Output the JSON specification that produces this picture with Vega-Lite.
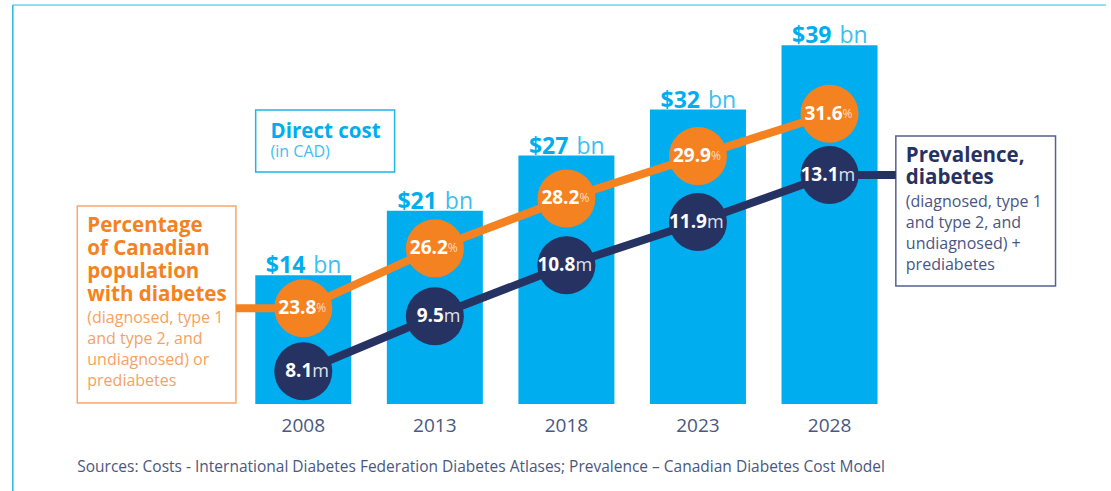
{
  "$schema": "https://vega.github.io/schema/vega-lite/v6.json",
  "width": 1111,
  "height": 491,
  "padding": 0,
  "autosize": {"type": "none"},
  "background": "white",
  "config": {"view": {"stroke": null}, "font": "Open Sans"},
  "datasets": {
    "main": [
      {"year": 2008, "cost": 14, "pct": 23.8, "prev": 8.1},
      {"year": 2013, "cost": 21, "pct": 26.2, "prev": 9.5},
      {"year": 2018, "cost": 27, "pct": 28.2, "prev": 10.8},
      {"year": 2023, "cost": 32, "pct": 29.9, "prev": 11.9},
      {"year": 2028, "cost": 39, "pct": 31.6, "prev": 13.1}
    ]
  },
  "data": {"name": "main"},
  "resolve": {"scale": {"y": "independent"}},
  "layer": [
    {
      "layer": [
        {
          "mark": {"type": "bar", "width": 96, "color": "#00aeef"},
          "encoding": {
            "x": {"field": "year", "type": "quantitative", "scale": {"domain": [1996.663, 2038.508], "nice": false, "zero": false}, "axis": null},
            "y": {"field": "cost", "type": "quantitative", "scale": {"domain": [-9.457, 43.913], "nice": false, "zero": false}, "axis": null},
            "y2": {"datum": 0}
          }
        },
        {
          "mark": {"type": "text", "align": "right", "baseline": "alphabetic", "dx": 2, "dy": -2, "fontSize": 23, "fontWeight": "bold", "color": "#00aeef"},
          "encoding": {
            "x": {"field": "year", "type": "quantitative", "scale": {"domain": [1996.663, 2038.508], "nice": false, "zero": false}, "axis": null},
            "y": {"field": "cost", "type": "quantitative", "scale": {"domain": [-9.457, 43.913], "nice": false, "zero": false}, "axis": null},
            "text": {"field": "cost", "type": "quantitative", "format": "$.0f"}
          }
        },
        {
          "mark": {"type": "text", "text": "bn", "align": "left", "baseline": "alphabetic", "dx": 10, "dy": -2, "fontSize": 23, "fontWeight": "normal", "color": "#3cbff0"},
          "encoding": {
            "x": {"field": "year", "type": "quantitative", "scale": {"domain": [1996.663, 2038.508], "nice": false, "zero": false}, "axis": null},
            "y": {"field": "cost", "type": "quantitative", "scale": {"domain": [-9.457, 43.913], "nice": false, "zero": false}, "axis": null}
          }
        },
        {
          "mark": {"type": "text", "align": "center", "baseline": "alphabetic", "fontSize": 19, "color": "#4a5780"},
          "encoding": {
            "x": {"field": "year", "type": "quantitative", "scale": {"domain": [1996.663, 2038.508], "nice": false, "zero": false}, "axis": null},
            "y": {"datum": -3.04, "type": "quantitative", "scale": {"domain": [-9.457, 43.913], "nice": false, "zero": false}, "axis": null},
            "text": {"field": "year", "type": "quantitative", "format": "d"}
          }
        },
        {
          "data": {"values": [{}]},
          "mark": {"type": "text", "text": "Sources: Costs - International Diabetes Federation Diabetes Atlases; Prevalence – Canadian Diabetes Cost Model", "align": "left", "baseline": "alphabetic", "fontSize": 15.5, "color": "#4a5780"},
          "encoding": {
            "x": {"datum": 1999.41, "type": "quantitative", "scale": {"domain": [1996.663, 2038.508], "nice": false, "zero": false}, "axis": null},
            "y": {"datum": -7.39, "type": "quantitative", "scale": {"domain": [-9.457, 43.913], "nice": false, "zero": false}, "axis": null}
          }
        },
        {
          "data": {"values": [{}]},
          "mark": {"type": "rule", "color": "#6dd3f3", "strokeWidth": 1.5},
          "encoding": {
            "x": {"datum": 1996.96, "type": "quantitative", "scale": {"domain": [1996.663, 2038.508], "nice": false, "zero": false}, "axis": null},
            "x2": {"datum": 2038.508},
            "y": {"datum": 43.37, "type": "quantitative", "scale": {"domain": [-9.457, 43.913], "nice": false, "zero": false}, "axis": null}
          }
        },
        {
          "data": {"values": [{}]},
          "mark": {"type": "rule", "color": "#29b6ea", "strokeWidth": 1.5},
          "encoding": {
            "x": {"datum": 1996.96, "type": "quantitative", "scale": {"domain": [1996.663, 2038.508], "nice": false, "zero": false}, "axis": null},
            "y": {"datum": 43.37, "type": "quantitative", "scale": {"domain": [-9.457, 43.913], "nice": false, "zero": false}, "axis": null},
            "y2": {"datum": -9.457}
          }
        },
        {
          "data": {"values": [{}]},
          "mark": {"type": "rect", "fill": "white", "stroke": "#f7a66c", "strokeWidth": 1.5},
          "encoding": {
            "x": {"datum": 1999.41, "type": "quantitative", "scale": {"domain": [1996.663, 2038.508], "nice": false, "zero": false}, "axis": null},
            "x2": {"datum": 2005.44},
            "y": {"datum": 21.52, "type": "quantitative", "scale": {"domain": [-9.457, 43.913], "nice": false, "zero": false}, "axis": null},
            "y2": {"datum": 0.11}
          }
        },
        {
          "data": {"values": [{}]},
          "mark": {"type": "rect", "fill": "white", "stroke": "#56608f", "strokeWidth": 1.5},
          "encoding": {
            "x": {"datum": 2030.52, "type": "quantitative", "scale": {"domain": [1996.663, 2038.508], "nice": false, "zero": false}, "axis": null},
            "x2": {"datum": 2036.59},
            "y": {"datum": 29.13, "type": "quantitative", "scale": {"domain": [-9.457, 43.913], "nice": false, "zero": false}, "axis": null},
            "y2": {"datum": 12.83}
          }
        },
        {
          "data": {"values": [{}]},
          "mark": {"type": "rect", "fill": "white", "stroke": "#1cb5ed", "strokeWidth": 1.5},
          "encoding": {
            "x": {"datum": 2006.19, "type": "quantitative", "scale": {"domain": [1996.663, 2038.508], "nice": false, "zero": false}, "axis": null},
            "x2": {"datum": 2011.47},
            "y": {"datum": 31.96, "type": "quantitative", "scale": {"domain": [-9.457, 43.913], "nice": false, "zero": false}, "axis": null},
            "y2": {"datum": 25.22}
          }
        },
        {
          "data": {"values": [{}]},
          "mark": {"type": "text", "text": ["Percentage", "of Canadian", "population", "with diabetes"], "lineHeight": 23, "align": "left", "baseline": "alphabetic", "fontSize": 20.5, "fontWeight": "bold", "color": "#f58220"},
          "encoding": {
            "x": {"datum": 1999.79, "type": "quantitative", "scale": {"domain": [1996.663, 2038.508], "nice": false, "zero": false}, "axis": null},
            "y": {"datum": 18.7, "type": "quantitative", "scale": {"domain": [-9.457, 43.913], "nice": false, "zero": false}, "axis": null}
          }
        },
        {
          "data": {"values": [{}]},
          "mark": {"type": "text", "text": ["(diagnosed, type 1", "and type 2, and", "undiagnosed) or", "prediabetes"], "lineHeight": 21, "align": "left", "baseline": "alphabetic", "fontSize": 16, "fontWeight": "normal", "color": "#f5a262"},
          "encoding": {
            "x": {"datum": 1999.79, "type": "quantitative", "scale": {"domain": [1996.663, 2038.508], "nice": false, "zero": false}, "axis": null},
            "y": {"datum": 8.8, "type": "quantitative", "scale": {"domain": [-9.457, 43.913], "nice": false, "zero": false}, "axis": null}
          }
        },
        {
          "data": {"values": [{}]},
          "mark": {"type": "text", "text": ["Prevalence,", "diabetes"], "lineHeight": 22, "align": "left", "baseline": "alphabetic", "fontSize": 20.5, "fontWeight": "bold", "color": "#263262"},
          "encoding": {
            "x": {"datum": 2030.9, "type": "quantitative", "scale": {"domain": [1996.663, 2038.508], "nice": false, "zero": false}, "axis": null},
            "y": {"datum": 26.3, "type": "quantitative", "scale": {"domain": [-9.457, 43.913], "nice": false, "zero": false}, "axis": null}
          }
        },
        {
          "data": {"values": [{}]},
          "mark": {"type": "text", "text": ["(diagnosed, type 1", "and type 2, and", "undiagnosed) +", "prediabetes"], "lineHeight": 21, "align": "left", "baseline": "alphabetic", "fontSize": 16, "fontWeight": "normal", "color": "#4a5585"},
          "encoding": {
            "x": {"datum": 2030.9, "type": "quantitative", "scale": {"domain": [1996.663, 2038.508], "nice": false, "zero": false}, "axis": null},
            "y": {"datum": 21.41, "type": "quantitative", "scale": {"domain": [-9.457, 43.913], "nice": false, "zero": false}, "axis": null}
          }
        },
        {
          "data": {"values": [{}]},
          "mark": {"type": "text", "text": "Direct cost", "align": "left", "baseline": "alphabetic", "fontSize": 20.5, "fontWeight": "bold", "color": "#00aeef"},
          "encoding": {
            "x": {"datum": 2006.757, "type": "quantitative", "scale": {"domain": [1996.663, 2038.508], "nice": false, "zero": false}, "axis": null},
            "y": {"datum": 28.91, "type": "quantitative", "scale": {"domain": [-9.457, 43.913], "nice": false, "zero": false}, "axis": null}
          }
        },
        {
          "data": {"values": [{}]},
          "mark": {"type": "text", "text": "(in CAD)", "align": "left", "baseline": "alphabetic", "fontSize": 16, "fontWeight": "normal", "color": "#40bff0"},
          "encoding": {
            "x": {"datum": 2006.757, "type": "quantitative", "scale": {"domain": [1996.663, 2038.508], "nice": false, "zero": false}, "axis": null},
            "y": {"datum": 26.85, "type": "quantitative", "scale": {"domain": [-9.457, 43.913], "nice": false, "zero": false}, "axis": null}
          }
        }
      ]
    },
    {
      "layer": [
        {
          "data": {"values": [{}]},
          "mark": {"type": "rule", "color": "#f58220", "strokeWidth": 8},
          "encoding": {
            "x": {"datum": 2005.44, "type": "quantitative", "scale": {"domain": [1996.663, 2038.508], "nice": false, "zero": false}, "axis": null},
            "x2": {"datum": 2008},
            "y": {"datum": 23.8, "type": "quantitative", "scale": {"domain": [16.47, 36.16], "nice": false, "zero": false}, "axis": null}
          }
        },
        {
          "mark": {"type": "line", "color": "#f58220", "strokeWidth": 8},
          "encoding": {
            "x": {"field": "year", "type": "quantitative", "scale": {"domain": [1996.663, 2038.508], "nice": false, "zero": false}, "axis": null},
            "y": {"field": "pct", "type": "quantitative", "scale": {"domain": [16.47, 36.16], "nice": false, "zero": false}, "axis": null}
          }
        },
        {
          "mark": {"type": "circle", "color": "#f58220", "opacity": 1, "size": 3364},
          "encoding": {
            "x": {"field": "year", "type": "quantitative", "scale": {"domain": [1996.663, 2038.508], "nice": false, "zero": false}, "axis": null},
            "y": {"field": "pct", "type": "quantitative", "scale": {"domain": [16.47, 36.16], "nice": false, "zero": false}, "axis": null}
          }
        },
        {
          "mark": {"type": "text", "align": "right", "baseline": "alphabetic", "dx": 13, "dy": 6, "fontSize": 19, "fontWeight": "bold", "color": "white"},
          "encoding": {
            "x": {"field": "year", "type": "quantitative", "scale": {"domain": [1996.663, 2038.508], "nice": false, "zero": false}, "axis": null},
            "y": {"field": "pct", "type": "quantitative", "scale": {"domain": [16.47, 36.16], "nice": false, "zero": false}, "axis": null},
            "text": {"field": "pct", "type": "quantitative", "format": ".1f"}
          }
        },
        {
          "mark": {"type": "text", "text": "%", "align": "left", "baseline": "middle", "dx": 13, "dy": 0, "fontSize": 12, "fontWeight": "normal", "color": "#fcdcc2"},
          "encoding": {
            "x": {"field": "year", "type": "quantitative", "scale": {"domain": [1996.663, 2038.508], "nice": false, "zero": false}, "axis": null},
            "y": {"field": "pct", "type": "quantitative", "scale": {"domain": [16.47, 36.16], "nice": false, "zero": false}, "axis": null}
          }
        }
      ]
    },
    {
      "layer": [
        {
          "data": {"values": [{}]},
          "mark": {"type": "rule", "color": "#263262", "strokeWidth": 8},
          "encoding": {
            "x": {"datum": 2028, "type": "quantitative", "scale": {"domain": [1996.663, 2038.508], "nice": false, "zero": false}, "axis": null},
            "x2": {"datum": 2030.52},
            "y": {"datum": 13.1, "type": "quantitative", "scale": {"domain": [5.052, 17.555], "nice": false, "zero": false}, "axis": null}
          }
        },
        {
          "mark": {"type": "line", "color": "#263262", "strokeWidth": 8},
          "encoding": {
            "x": {"field": "year", "type": "quantitative", "scale": {"domain": [1996.663, 2038.508], "nice": false, "zero": false}, "axis": null},
            "y": {"field": "prev", "type": "quantitative", "scale": {"domain": [5.052, 17.555], "nice": false, "zero": false}, "axis": null}
          }
        },
        {
          "mark": {"type": "circle", "color": "#263262", "opacity": 1, "size": 3364},
          "encoding": {
            "x": {"field": "year", "type": "quantitative", "scale": {"domain": [1996.663, 2038.508], "nice": false, "zero": false}, "axis": null},
            "y": {"field": "prev", "type": "quantitative", "scale": {"domain": [5.052, 17.555], "nice": false, "zero": false}, "axis": null}
          }
        },
        {
          "mark": {"type": "text", "align": "right", "baseline": "alphabetic", "dx": 9, "dy": 6, "fontSize": 19, "fontWeight": "bold", "color": "white"},
          "encoding": {
            "x": {"field": "year", "type": "quantitative", "scale": {"domain": [1996.663, 2038.508], "nice": false, "zero": false}, "axis": null},
            "y": {"field": "prev", "type": "quantitative", "scale": {"domain": [5.052, 17.555], "nice": false, "zero": false}, "axis": null},
            "text": {"field": "prev", "type": "quantitative", "format": ".1f"}
          }
        },
        {
          "mark": {"type": "text", "text": "m", "align": "left", "baseline": "alphabetic", "dx": 9, "dy": 6, "fontSize": 18, "fontWeight": "normal", "color": "#dfe2ec"},
          "encoding": {
            "x": {"field": "year", "type": "quantitative", "scale": {"domain": [1996.663, 2038.508], "nice": false, "zero": false}, "axis": null},
            "y": {"field": "prev", "type": "quantitative", "scale": {"domain": [5.052, 17.555], "nice": false, "zero": false}, "axis": null}
          }
        }
      ]
    }
  ]
}
